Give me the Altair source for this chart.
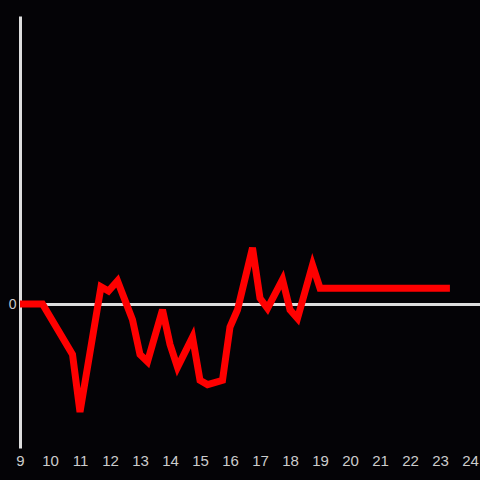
import altair as alt
import pandas as pd
import jinja2

xs = [9, 9.75, 10.75, 11, 11.7, 11.95, 12.25, 12.75, 13, 13.25, 13.75, 14, 14.25, 14.75,
      15, 15.25, 15.75, 16, 16.25, 16.75, 17, 17.25, 17.75, 18, 18.25, 18.75, 19, 20, 21, 22, 23, 23.33]
ys = [0, 0, -0.35, -0.75, 0.12, 0.09, 0.16, -0.11, -0.35, -0.40, -0.04, -0.28, -0.44, -0.23,
      -0.53, -0.56, -0.53, -0.16, -0.04, 0.39, 0.04, -0.03, 0.17, -0.04, -0.10, 0.27, 0.11,
      0.11, 0.11, 0.11, 0.11, 0.11]
tick_values = list(range(9, 25))

BG = "#040306"

df = pd.DataFrame({"x": xs, "y": ys})

chart = alt.Chart(df).mark_line(color="#ff0000", strokeWidth=7, strokeJoin="miter", clip=True).encode(
    x=alt.X("x:Q", scale=alt.Scale(domain=[9, 24.333], nice=False, zero=False),
            axis=alt.Axis(values=tick_values, title=None, domain=False, ticks=False, grid=False,
                          labelColor="#cccccc", labelFontSize=15, labelPadding=5,
                          labelFont="Liberation Sans", labelOverlap=False, labelFlush=False,
                          labelBound=False)),
    y=alt.Y("y:Q", scale=alt.Scale(domain=[-1, 2], nice=False, zero=False),
            axis=alt.Axis(values=[0], title=None, domain=True, domainColor="#dddddd", domainWidth=3,
                          ticks=False, grid=True, gridColor="#dddddd", gridWidth=3, gridOpacity=1,
                          labelColor="#cccccc", labelFontSize=14, labelPadding=4,
                          labelFont="Liberation Sans")),
).properties(
    width=460, height=432, background=BG,
    autosize=alt.AutoSizeParams(type="none"),
    padding={"left": 12, "top": 8, "right": 0, "bottom": 22},
).configure_view(stroke=None)

TEMPLATE = jinja2.Template("""<!DOCTYPE html>
<html>
<head>
  <style>
    html, body { background: """ + BG + """; }
    body { margin: 8px 0 0 8px; overflow: hidden; }
    #{{ output_div }}.vega-embed { width: 100%; display: flex; }
  </style>
  <script type="text/javascript" src="{{ base_url }}/vega@{{ vega_version }}"></script>
  <script type="text/javascript" src="{{ base_url }}/vega-lite@{{ vegalite_version }}"></script>
  <script type="text/javascript" src="{{ base_url }}/vega-embed@{{ vegaembed_version }}"></script>
</head>
<body>
  <div id="{{ output_div }}"></div>
  <script type="text/javascript">
    (function(vegaEmbed) {
      var spec = {{ spec }};
      var embedOpt = {{ embed_options }};
      function showError(el, error){
        el.innerHTML = ('<div style="color:red;"><p>JavaScript Error: ' + error.message + '</p></div>');
        throw error;
      }
      const el = document.getElementById('{{ output_div }}');
      vegaEmbed("#{{ output_div }}", spec, embedOpt).catch(error => showError(el, error));
    })(vegaEmbed);
  </script>
</body>
</html>
""")

chart.save("out.html", embed_options={"renderer": "svg", "actions": False}, template=TEMPLATE)
